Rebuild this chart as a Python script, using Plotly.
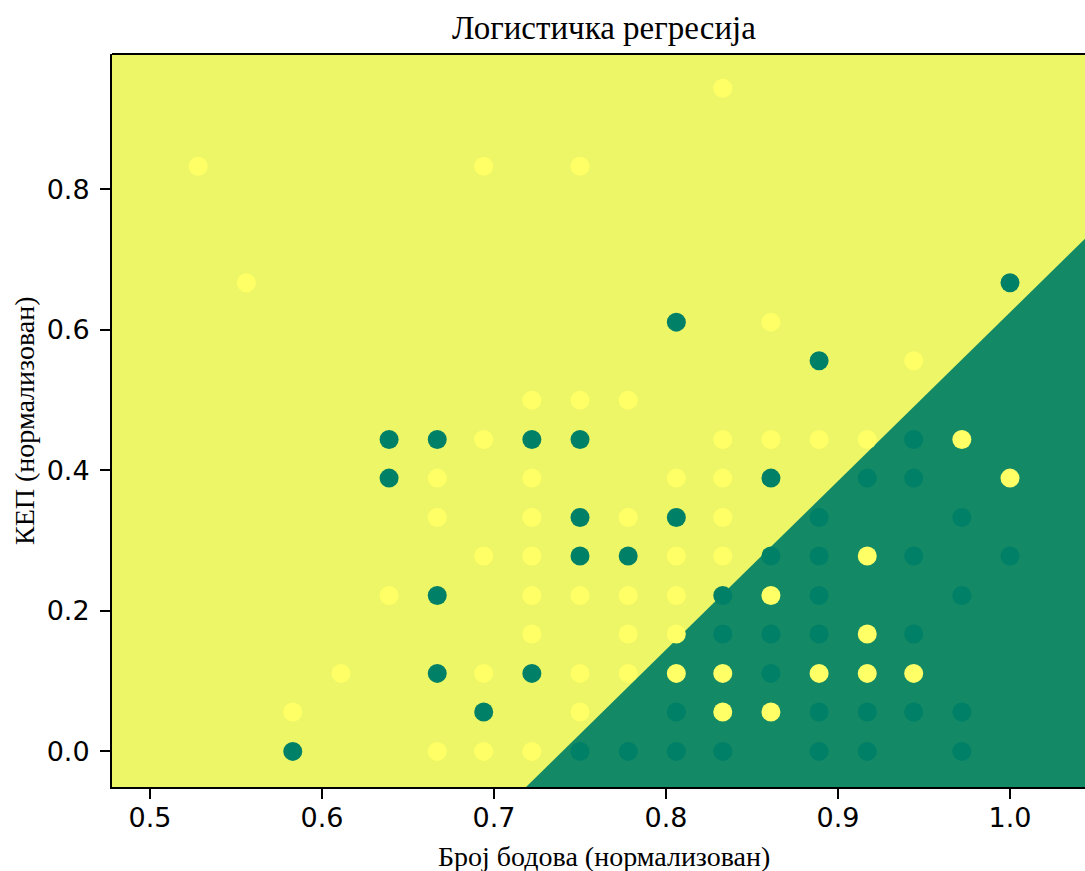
import plotly.graph_objects as go

# Normalized score (x) and normalized KEP (y) for each outcome class
yellow_x = [0.833,
            0.528, 0.694, 0.750,
            0.556,
            0.861,
            0.944,
            0.722, 0.750, 0.778,
            0.694, 0.833, 0.861, 0.889, 0.917, 0.972,
            0.667, 0.722, 0.806, 0.833, 1.000,
            0.667, 0.722, 0.778, 0.833,
            0.694, 0.722, 0.806, 0.833, 0.917,
            0.639, 0.722, 0.750, 0.778, 0.806, 0.861,
            0.722, 0.778, 0.806, 0.917,
            0.611, 0.694, 0.750, 0.778, 0.806, 0.833, 0.889, 0.917, 0.944,
            0.583, 0.750, 0.833, 0.861,
            0.667, 0.694, 0.722]
yellow_y = [0.944,
            0.833, 0.833, 0.833,
            0.667,
            0.611,
            0.556,
            0.500, 0.500, 0.500,
            0.444, 0.444, 0.444, 0.444, 0.444, 0.444,
            0.389, 0.389, 0.389, 0.389, 0.389,
            0.333, 0.333, 0.333, 0.333,
            0.278, 0.278, 0.278, 0.278, 0.278,
            0.222, 0.222, 0.222, 0.222, 0.222, 0.222,
            0.167, 0.167, 0.167, 0.167,
            0.111, 0.111, 0.111, 0.111, 0.111, 0.111, 0.111, 0.111, 0.111,
            0.056, 0.056, 0.056, 0.056,
            0.000, 0.000, 0.000]

green_x = [1.000,
           0.806,
           0.889,
           0.639, 0.667, 0.722, 0.750, 0.944,
           0.639, 0.861, 0.917, 0.944,
           0.750, 0.806, 0.889, 0.972,
           0.750, 0.778, 0.861, 0.889, 0.944, 1.000,
           0.667, 0.833, 0.889, 0.972,
           0.833, 0.861, 0.889, 0.944,
           0.667, 0.722, 0.861,
           0.694, 0.806, 0.889, 0.917, 0.944, 0.972,
           0.583, 0.750, 0.778, 0.806, 0.833, 0.889, 0.917, 0.972]
green_y = [0.667,
           0.611,
           0.556,
           0.444, 0.444, 0.444, 0.444, 0.444,
           0.389, 0.389, 0.389, 0.389,
           0.333, 0.333, 0.333, 0.333,
           0.278, 0.278, 0.278, 0.278, 0.278, 0.278,
           0.222, 0.222, 0.222, 0.222,
           0.167, 0.167, 0.167, 0.167,
           0.111, 0.111, 0.111,
           0.056, 0.056, 0.056, 0.056, 0.056, 0.056,
           0.000, 0.000, 0.000, 0.000, 0.000, 0.000, 0.000, 0.000]

# Logistic regression: z = intercept + coef_x*x + coef_y*y, class 1 where z > 0
intercept = 7.106
coef_x = -9.606
coef_y = 4.0

x_range = [0.4779, 1.0436]
y_range = [-0.0507, 0.9927]
x_ticks = [0.5, 0.6, 0.7, 0.8, 0.9, 1.0]
y_ticks = [0.0, 0.2, 0.4, 0.6, 0.8]

REGION_0 = "#138966"
REGION_1 = "#EDF666"
POINT_0 = "#008066"
POINT_1 = "#FFFF66"


def boundary_y(x):
    return -(intercept + coef_x * x) / coef_y


# Class-0 decision region: everything below the boundary line (clipped by the axes)
far_left, far_right, far_low = 0.0, 2.0, -5.0
region_x = [far_left, far_right, far_right, far_left]
region_y = [boundary_y(far_left), boundary_y(far_right), far_low, far_low]

fig = go.Figure()
fig.add_trace(go.Scatter(
    x=region_x, y=region_y, mode="lines", fill="toself",
    fillcolor=REGION_0, line=dict(width=0, color=REGION_0),
    hoverinfo="skip", showlegend=False,
))
fig.add_trace(go.Scatter(
    x=yellow_x, y=yellow_y, mode="markers",
    marker=dict(size=19, color=POINT_1, line=dict(width=0)),
    showlegend=False,
))
fig.add_trace(go.Scatter(
    x=green_x, y=green_y, mode="markers",
    marker=dict(size=19, color=POINT_0, line=dict(width=0)),
    showlegend=False,
))

W, H = 1085, 871
L, T, B = 112, 54, 84
plot_w = W - L
plot_h = H - T - B

axis_common = dict(
    showgrid=False, zeroline=False, showline=True, linecolor="black",
    linewidth=2, ticks="outside", ticklen=10, tickwidth=2, tickcolor="black",
    tickfont=dict(family="DejaVu Sans", size=27, color="black"),
)

fig.update_layout(
    width=W, height=H,
    margin=dict(l=L, r=0, t=T, b=B, pad=0),
    paper_bgcolor="white",
    plot_bgcolor=REGION_1,
    title=dict(
        text="Логистичка регресија",
        font=dict(family="Liberation Serif", size=33, color="black"),
        xref="container", x=604 / W, xanchor="center",
        yref="container", y=1 - 27 / H, yanchor="middle",
    ),
    xaxis=dict(range=x_range, tickvals=x_ticks, ticklabelstandoff=-4,
               ticktext=[f"{v:.1f}" for v in x_ticks], **axis_common),
    yaxis=dict(range=y_range, tickvals=y_ticks, ticklabelstandoff=5,
               ticktext=[f"{v:.1f}" for v in y_ticks], **axis_common),
    shapes=[dict(type="line", xref="paper", yref="paper",
                 x0=0, x1=1, y0=1, y1=1,
                 line=dict(color="black", width=2))],
    annotations=[
        dict(text="Број бодова (нормализован)", xref="paper", yref="paper",
             x=(604 - L) / plot_w, y=-(856 - (H - B)) / plot_h,
             xanchor="center", yanchor="middle", showarrow=False,
             font=dict(family="Liberation Serif", size=28, color="black")),
        dict(text="КЕП (нормализован)", xref="paper", yref="paper",
             x=(24 - L) / plot_w, y=((H - B) - 421) / plot_h,
             xanchor="center", yanchor="middle", showarrow=False,
             textangle=-90,
             font=dict(family="Liberation Serif", size=28, color="black")),
    ],
)

fig.write_html("out.html")
